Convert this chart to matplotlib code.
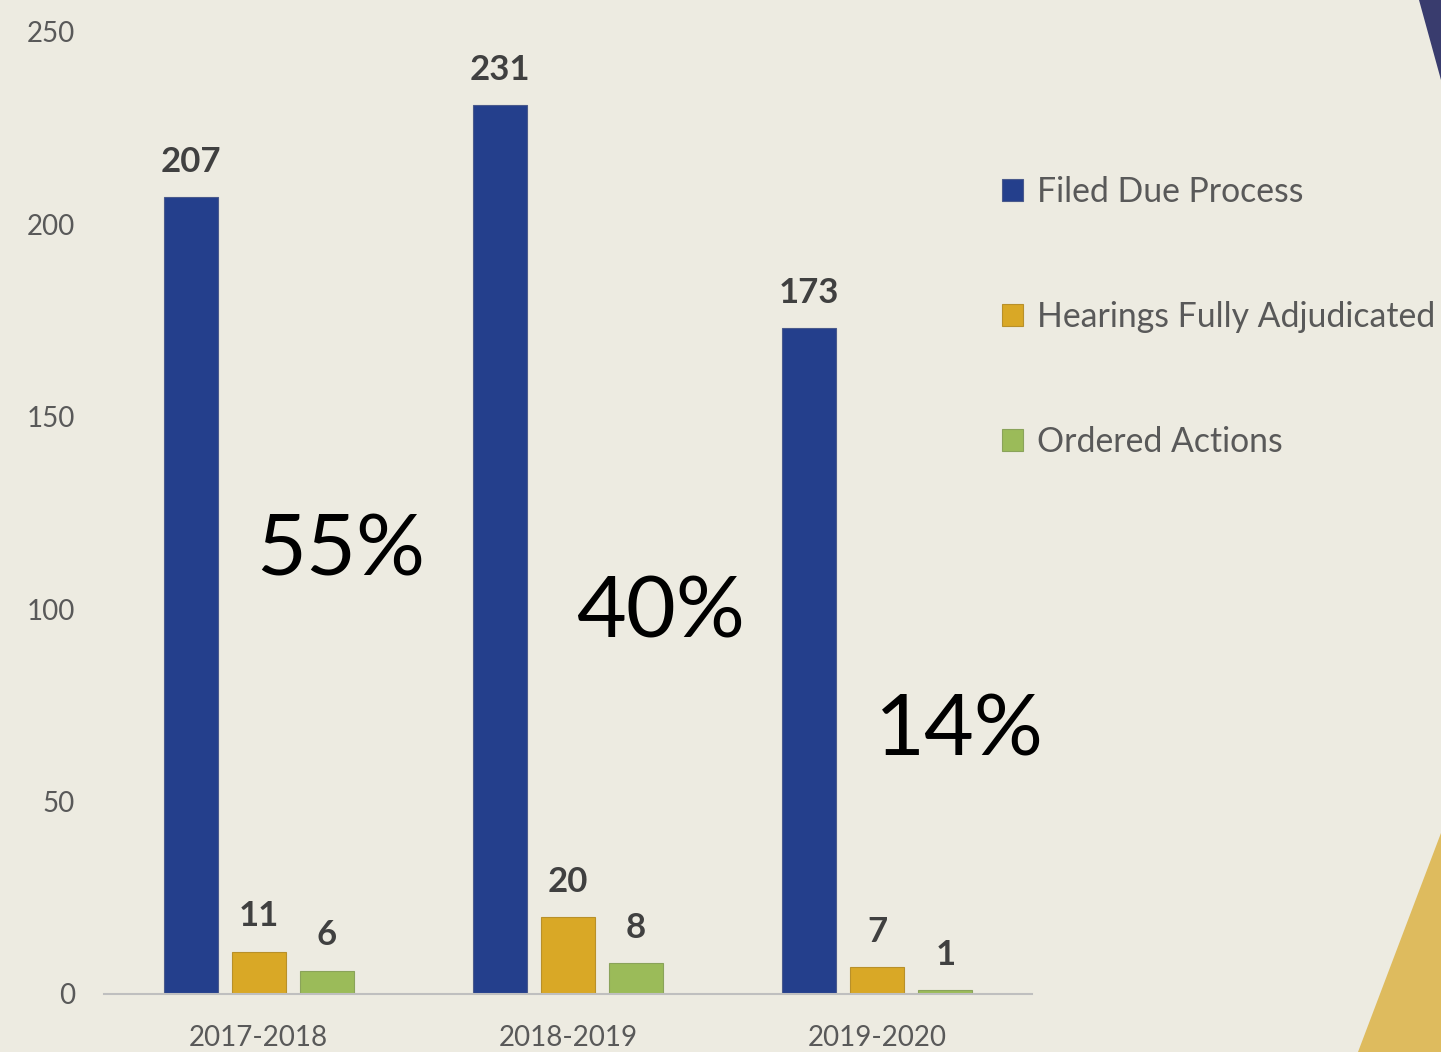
import numpy as np
import matplotlib.pyplot as plt
from matplotlib.patches import Polygon

# data
years = ["2017-2018", "2018-2019", "2019-2020"]
filed = [207, 231, 173]
hearings = [11, 20, 7]
ordered = [6, 8, 1]
percents = ["55%", "40%", "14%"]
pct_pos = [(0.265, 115.0), (1.30, 98.8), (2.265, 68.2)]
series_names = ["Filed Due Process", "Hearings Fully Adjudicated", "Ordered Actions"]

bg = "#EDEBE1"
colors = ["#243F8C", "#D9A826", "#9BBB59"]
edges = ["#4A5A8C", "#B8902A", "#8AA35A"]

plt.rcParams['font.family'] = ['Lato', 'DejaVu Sans']

fig = plt.figure(figsize=(14.41, 10.52), dpi=100, facecolor=bg)

# decorative corner triangles
fig.patches.append(Polygon([(1419/1441, 1), (1, 1), (1, 1 - 80/1052)],
                           closed=True, transform=fig.transFigure,
                           facecolor="#393C6E", edgecolor="none"))
fig.patches.append(Polygon([(1, 1 - 833/1052), (1, 0), (1358/1441, 0)],
                           closed=True, transform=fig.transFigure,
                           facecolor="#DEBB5E", edgecolor="none"))

ax = fig.add_axes([104/1441, 58/1052, 928/1441, 962/1052])
ax.set_facecolor("none")

x = np.arange(len(years))
w = 0.175
offs = [-0.22, 0.0, 0.22]
for vals, off, c, ec, name in zip([filed, hearings, ordered], offs, colors, edges, series_names):
    bars = ax.bar(x + off, vals, width=w, color=c, edgecolor=ec, linewidth=0.8, label=name)
    for b, v in zip(bars, vals):
        ax.annotate(str(v), (b.get_x() + b.get_width()/2, v), xytext=(0, 14),
                    textcoords="offset points", ha="center", va="bottom",
                    fontsize=25, fontweight="bold", color="#404040")

for txt, (px, py) in zip(percents, pct_pos):
    ax.text(px, py, txt, ha="center", va="center", fontsize=62, color="black")

ax.set_xlim(-0.5, 2.5)
ax.set_ylim(0, 250)
ax.set_yticks([0, 50, 100, 150, 200, 250])
ax.set_xticks(x)
ax.set_xticklabels(years)
ax.tick_params(axis="both", length=0, labelsize=20, colors="#595959")
ax.tick_params(axis="y", pad=21)
ax.tick_params(axis="x", pad=22)
for s in ["top", "right", "left"]:
    ax.spines[s].set_visible(False)
ax.spines["bottom"].set_color("#BFBFBF")
ax.spines["bottom"].set_linewidth(1.5)

leg = fig.legend(loc="upper left", bbox_to_anchor=(1002/1441, 1 - 176/1052),
                 frameon=False, fontsize=24.3, labelspacing=2.76,
                 handlelength=0.62, handleheight=0.62, handletextpad=0.42,
                 labelcolor="#595959", borderpad=0, borderaxespad=0)

fig.savefig("out.png", dpi=100, facecolor=bg)
